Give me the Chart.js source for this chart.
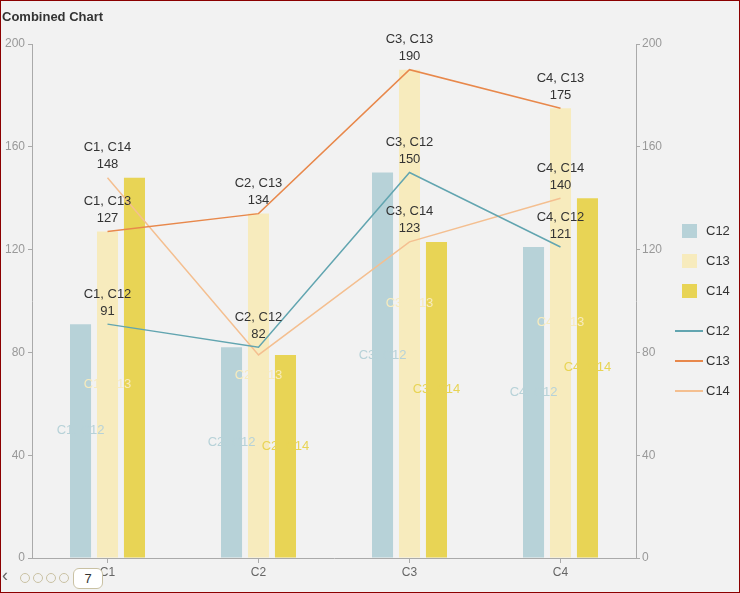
<!DOCTYPE html>
<html>
<head>
<meta charset="utf-8">
<script src="https://cdn.jsdelivr.net/npm/chart.js@4/dist/chart.umd.min.js"></script>
<style>
  body { margin: 0; background: #f2f2f2; font-family: 'Liberation Sans', Arial, sans-serif; }
  #wrap { position: relative; width: 740px; height: 593px; background: #f2f2f2; }
  #frame { position: absolute; left: 0; top: 0; width: 738px; height: 591px; border: 1px solid #8b0000; pointer-events: none; }
  #title { position: absolute; left: 2px; top: 9px; font-size: 13px; font-weight: bold; color: #333; }
  .leg { position: absolute; font-size: 13px; color: #333; }
  .box { position: absolute; width: 15px; height: 14px; }
  .ln { position: absolute; width: 28px; height: 2px; }
  #pager { position: absolute; left: 0; top: 567px; height: 24px; }
  .dot { position: absolute; top: 6px; width: 8px; height: 8px; border: 1px solid #c9c1a3; border-radius: 50%; }
  #page { position: absolute; left: 73px; top: 1px; width: 28px; height: 19px; border: 1px solid #c9c1a3; border-radius: 6px; background: #fff; font-size: 13px; color: #333; text-align: center; line-height: 19px; }
</style>
</head>
<body>
<div id="wrap">
  <canvas id="chart" width="740" height="593"></canvas>
  <div id="title">Combined Chart</div>
  <div id="legend"></div>
  <div id="pager">
    <div style="position:absolute;left:2px;top:-2px;font-size:18px;color:#666;">&#8249;</div>
    <div class="dot" style="left:20px"></div>
    <div class="dot" style="left:33px"></div>
    <div class="dot" style="left:46px"></div>
    <div class="dot" style="left:59px"></div>
    <div id="page">7</div>
  </div>
  <div id="frame"></div>
</div>
<script>
const categories = ['C1', 'C2', 'C3', 'C4'];
const seriesNames = ['C12', 'C13', 'C14'];
const c12 = [91, 82, 150, 121];
const c13 = [127, 134, 190, 175];
const c14 = [148, 79, 123, 140];
const yTicks = [0, 40, 80, 120, 160, 200];
// labels the reference leaves out (overlapping ones)
const hiddenLineLabels = ['C2, C14'];
const hiddenBarLabels = ['C1, C14'];

const barColors = ['#b7d2d8', '#f7ebbd', '#e8d455'];
const lineColors = ['#62a5b0', '#e8884b', '#f4bf90'];
const values = [c12, c13, c14];

const datasets = [];
values.forEach((v, i) => {
    datasets.push({
        type: 'line',
        label: seriesNames[i],
        data: v,
        borderColor: lineColors[i],
        backgroundColor: lineColors[i],
        borderWidth: 1.5,
        pointRadius: 0,
        tension: 0,
        yAxisID: 'y',
        order: 0,
        isLine: true
    });
});
values.forEach((v, i) => {
    datasets.push({
        type: 'bar',
        label: seriesNames[i],
        data: v,
        backgroundColor: barColors[i],
        barPercentage: 0.78,
        categoryPercentage: 0.536,
        yAxisID: 'y',
        order: 1
    });
});

// labels: two-line labels above line points, same-colour labels inside bars
const labelPlugin = {
    id: 'labels',
    afterDatasetsDraw(chart) {
        const ctx = chart.ctx;
        ctx.save();
        ctx.font = '13px "Liberation Sans", Arial, sans-serif';
        ctx.textAlign = 'center';
        ctx.textBaseline = 'middle';
        chart.data.datasets.forEach((ds, di) => {
            const meta = chart.getDatasetMeta(di);
            meta.data.forEach((el, j) => {
                const name = categories[j] + ', ' + ds.label;
                if (ds.isLine) {
                    if (hiddenLineLabels.includes(name)) return;
                    ctx.fillStyle = '#333';
                    ctx.fillText(name, el.x, el.y - 30);
                    ctx.fillText(String(ds.data[j]), el.x, el.y - 13);
                } else {
                    if (hiddenBarLabels.includes(name)) return;
                    ctx.fillStyle = ds.backgroundColor;
                    ctx.fillText(name, el.x, (el.y + el.base) / 2 - 10);
                }
            });
        });
        ctx.restore();
    }
};

const axisColor = '#aaa';
const tickFont = { family: '"Liberation Sans", Arial, sans-serif', size: 12 };

new Chart(document.getElementById('chart').getContext('2d'), {
    type: 'bar',
    data: { labels: categories, datasets: datasets },
    options: {
        responsive: false,
        animation: false,
        layout: { padding: { top: 44, left: 0, right: 74, bottom: 0 } },
        scales: {
            x: {
                offset: true,
                grid: { display: true, drawOnChartArea: false, offset: false, tickLength: 5, color: axisColor },
                border: { color: axisColor },
                ticks: { color: '#666', font: tickFont, padding: 2 },
                afterFit: s => { s.height = 35; }
            },
            y: {
                position: 'left',
                min: 0, max: 200,
                afterBuildTicks: s => { s.ticks = yTicks.map(v => ({ value: v })); },
                grid: { display: true, drawOnChartArea: false, tickLength: 4, color: axisColor },
                border: { color: axisColor },
                ticks: { color: '#999', font: tickFont, padding: 3 },
                afterFit: s => { s.width = 32; }
            },
            y2: {
                position: 'right',
                min: 0, max: 200,
                afterBuildTicks: s => { s.ticks = yTicks.map(v => ({ value: v })); },
                grid: { display: true, drawOnChartArea: false, tickLength: 4, color: axisColor },
                border: { color: axisColor },
                ticks: { color: '#999', font: tickFont, padding: 2 },
                afterFit: s => { s.width = 30; }
            }
        },
        plugins: {
            legend: { display: false },
            tooltip: { enabled: false }
        }
    },
    plugins: [labelPlugin]
});

// legend on the right
const legend = document.getElementById('legend');
seriesNames.forEach((n, i) => {
    const y = 231 + i * 30;
    legend.insertAdjacentHTML('beforeend',
        `<div class="box" style="left:682px;top:${y - 7}px;background:${barColors[i]}"></div>` +
        `<div class="leg" style="left:706px;top:${y - 8}px">${n}</div>`);
});
seriesNames.forEach((n, i) => {
    const y = 331 + i * 30;
    legend.insertAdjacentHTML('beforeend',
        `<div class="ln" style="left:675px;top:${y - 1}px;background:${lineColors[i]}"></div>` +
        `<div class="leg" style="left:706px;top:${y - 8}px">${n}</div>`);
});
</script>
</body>
</html>
